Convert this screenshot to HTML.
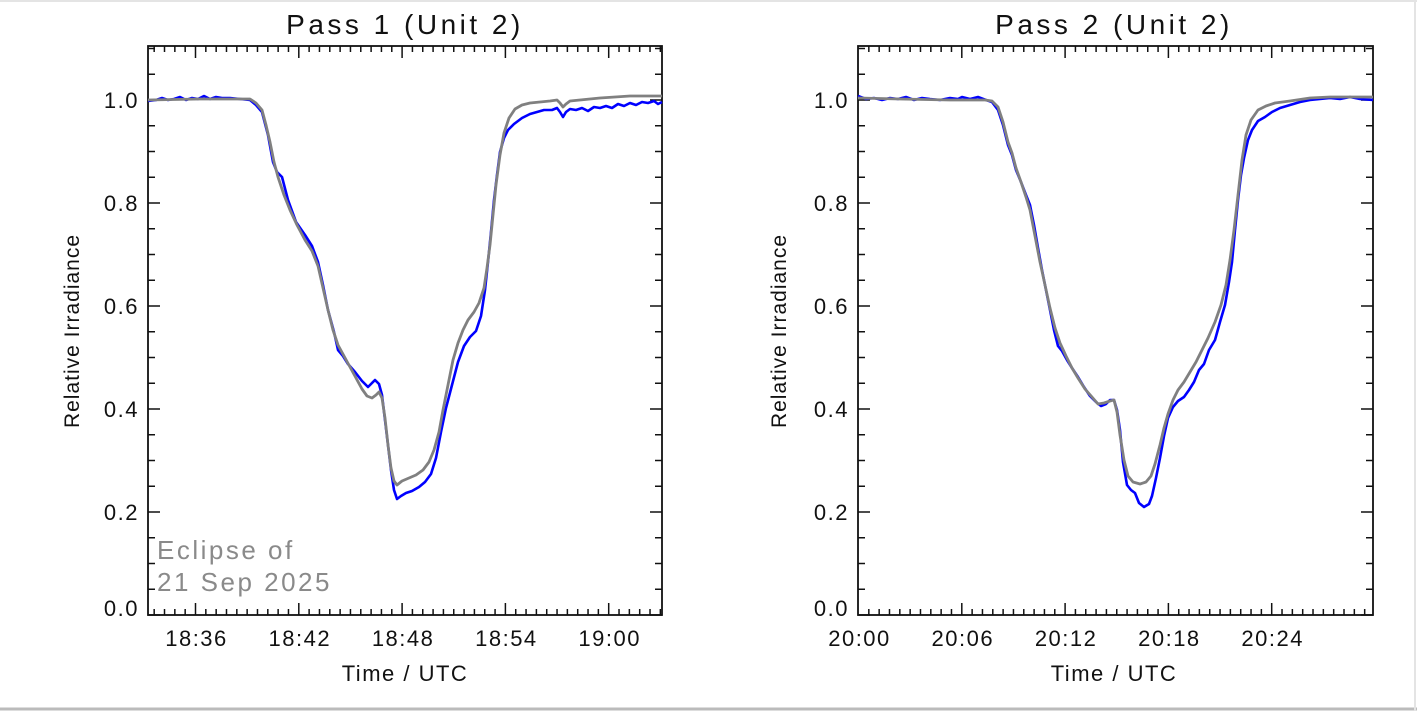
<!DOCTYPE html>
<html><head><meta charset="utf-8"><style>
html,body{margin:0;padding:0;background:#fff;}
svg{display:block;font-family:"Liberation Sans",sans-serif;}
</style></head><body>
<svg id="s" width="1417" height="711" viewBox="0 0 1417 711" xmlns="http://www.w3.org/2000/svg">
<rect x="0" y="0" width="1417" height="711" fill="#fff"/>
<line x1="0" y1="1" x2="1417" y2="1" stroke="#e4e4e4" stroke-width="2"/>
<line x1="0" y1="709" x2="1417" y2="709" stroke="#bbb" stroke-width="3"/>
<line x1="1415" y1="0" x2="1415" y2="711" stroke="#e4e4e4" stroke-width="2"/>
<g id="ax"></g>
<polyline fill="none" stroke="#0000ff" stroke-width="2.6" stroke-linejoin="round" points="148,101 156,100 162,98 168,100 174,99 180,97 186,100 192,98 198,99 204,96 210,99 216,97 222,98 230,98 240,99 250,100 256,105 262,112 268,135 273,162 277,172 282,177 288,200 296,222 305,235 312,246 318,262 323,285 328,310 334,332 338,350 343,356 348,364 355,372 362,381 368,387 372,383 375,380 379,384 382,395 385,420 388,445 391,470 394,490 397,499 401,496 406,493 412,491 419,487 425,482 431,474 436,458 441,432 446,408 452,385 458,362 464,346 470,337 476,331 481,316 485,290 488,262 491,232 494,200 497,175 500,152 504,138 508,130 514,124 522,118 530,114 537,112 544,110 552,110 557,108 560,112 563,117 566,112 570,109 576,110 582,108 588,111 594,107 600,108 606,106 612,108 618,104 624,106 630,103 636,105 642,102 648,103 654,101 658,104 662,102"/>
<polyline fill="none" stroke="#808080" stroke-width="2.8" stroke-linejoin="round" points="148,100 200,99 250,99 256,103 262,110 266,125 270,142 274,162 278,177 284,195 290,210 297,225 305,240 312,251 318,266 323,288 328,310 333,330 338,345 344,356 350,367 356,378 362,389 367,396 372,398 376,395 379,392 382,398 385,418 388,445 391,468 394,481 397,485 402,481 409,478 416,475 423,470 429,462 434,450 439,432 443,410 448,385 453,360 458,343 463,330 468,320 474,312 479,303 484,288 487,268 490,245 493,215 496,185 500,155 504,133 509,118 515,109 522,105 530,103 540,102 550,101 557,100 560,103 563,107 566,104 570,101 580,100 590,99 600,98 615,97 630,96 645,96 662,96"/>
<polyline fill="none" stroke="#0000ff" stroke-width="2.6" stroke-linejoin="round" points="858,96 866,99 874,98 882,100 890,98 898,99 906,97 914,100 922,98 930,99 940,100 950,98 958,99 962,97 970,99 978,97 986,100 992,102 998,110 1003,125 1008,145 1012,155 1016,170 1021,182 1026,195 1030,205 1034,225 1038,248 1042,270 1046,290 1050,310 1054,330 1058,346 1062,351 1067,360 1072,368 1078,377 1084,387 1090,396 1096,402 1101,406 1106,404 1110,400 1114,400 1117,410 1120,430 1123,462 1127,485 1131,490 1135,493 1139,503 1144,507 1149,504 1152,496 1156,478 1160,458 1164,436 1168,418 1173,407 1178,401 1184,397 1189,390 1194,382 1199,370 1204,364 1209,350 1215,340 1220,322 1225,305 1229,282 1232,262 1235,230 1238,200 1241,175 1244,158 1248,140 1252,130 1258,121 1265,117 1272,112 1280,108 1290,105 1300,102 1310,100 1320,99 1330,98 1340,99 1350,97 1360,99 1373,100"/>
<polyline fill="none" stroke="#808080" stroke-width="2.8" stroke-linejoin="round" points="858,98 900,99 950,100 985,100 992,101 998,107 1003,122 1008,142 1012,153 1016,168 1021,182 1026,197 1030,210 1035,236 1040,262 1045,285 1050,308 1055,328 1060,343 1066,356 1072,368 1078,378 1085,389 1092,397 1098,404 1104,403 1110,401 1114,400 1117,412 1120,435 1124,460 1128,476 1133,482 1140,484 1146,482 1151,476 1155,464 1160,445 1164,428 1168,414 1173,400 1178,390 1184,382 1190,372 1196,362 1202,350 1208,338 1215,322 1221,305 1226,285 1230,260 1234,230 1238,195 1242,160 1246,135 1251,120 1258,110 1266,106 1275,103 1290,101 1310,98 1330,97 1350,97 1373,97"/>
<text x="405" y="34" font-size="28" text-anchor="middle" fill="#111" letter-spacing="3.5">Pass 1 (Unit 2)</text>
<text x="1114" y="34" font-size="28" text-anchor="middle" fill="#111" letter-spacing="3.5">Pass 2 (Unit 2)</text>
<text x="405" y="681" font-size="22" text-anchor="middle" fill="#111" letter-spacing="1.5">Time / UTC</text>
<text x="1114" y="681" font-size="22" text-anchor="middle" fill="#111" letter-spacing="1.5">Time / UTC</text>
<text transform="translate(79,331) rotate(-90)" font-size="21" text-anchor="middle" fill="#111" letter-spacing="1">Relative Irradiance</text>
<text transform="translate(786,331) rotate(-90)" font-size="21" text-anchor="middle" fill="#111" letter-spacing="1">Relative Irradiance</text>
<text x="157" y="559" font-size="26" fill="#8a8a8a" letter-spacing="2.5">Eclipse of</text>
<text x="157" y="591" font-size="26" fill="#8a8a8a" letter-spacing="2.5">21 Sep 2025</text>
</svg>
<script>
(function(){
var g=document.getElementById('ax'),h='';
function ln(a,b,c,d,w){h+='<line x1="'+a+'" y1="'+b+'" x2="'+c+'" y2="'+d+'" stroke="#111" stroke-width="'+(w||1.5)+'"/>';}
function tx(x,y,t,anc){h+='<text x="'+x+'" y="'+y+'" font-size="22" fill="#111" letter-spacing="1.5" text-anchor="'+anc+'">'+t+'</text>';}
var panels=[{L:148,R:662,x0:195.5,lab:['18:36','18:42','18:48','18:54','19:00']},{L:858,R:1373,x0:858.5,lab:['20:00','20:06','20:12','20:18','20:24']}];
var T=46,B=615,ypp=515;
panels.forEach(function(p){
 h+='<rect x="'+p.L+'" y="'+T+'" width="'+(p.R-p.L)+'" height="'+(B-T)+'" fill="none" stroke="#111" stroke-width="1.8"/>';
 for(var i=0;i<=22;i++){var y=B-i*0.05*ypp; var maj=(i%4==0); var len=maj?12:7;
  ln(p.L,y,p.L+len,y);ln(p.R,y,p.R-len,y);
  if(maj&&i<=20){tx(p.L-9,y+8-(i==0?7:0),(i*0.05).toFixed(1),'end');}}
 var per=103.3/6;
 for(var m=-40;m<=400;m++){var x=p.x0+m*per*0.6; if(x<p.L-1||x>p.R+0.5)continue; var maj=(m%10==0); var len=maj?12:6;
  if(x>p.L+0.5){ln(x,B,x,B-len);ln(x,T,x,T+len);}
  if(maj&&m/10>=0&&m/10<5)tx(x+1,646,p.lab[m/10],'middle');}
});
g.innerHTML=h;
})();
</script>
</body></html>
